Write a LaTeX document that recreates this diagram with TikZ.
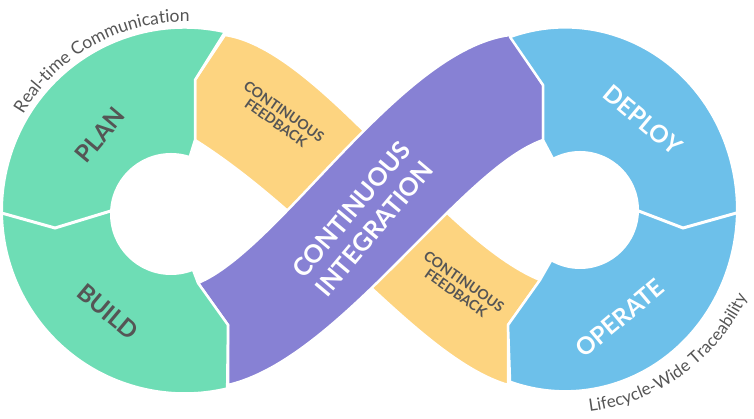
\documentclass[tikz,border=0pt]{standalone}
\usepackage{fontspec}
\setmainfont{Lato}
\usetikzlibrary{decorations.text}
\definecolor{cgreen}{HTML}{6EDDB5}
\definecolor{cyellow}{HTML}{FDD480}
\definecolor{cpurple}{HTML}{8781D4}
\definecolor{cblue}{HTML}{6DC0EA}
\definecolor{ctext}{HTML}{555555}
\begin{document}
\begin{tikzpicture}[x=1pt,y=1pt,
  piece/.style={draw=white,line width=2.5pt,line join=round},
  big/.style={font=\fontsize{24}{26}\selectfont\bfseries},
  small/.style={font=\fontsize{14}{14}\selectfont\bfseries,text=ctext,align=center},
  sep/.style={white,line width=3pt}]
\useasboundingbox (0,0) rectangle (754,419);
% yellow band
\path[piece,fill=cyellow] (225,384) .. controls (320,370) and (440,180) .. (540,139) -- (508,94) -- (508,34) .. controls (420,60) and (320,200) .. (195,279) -- (195,339) -- cycle;
% purple band
\path[piece,fill=cpurple] (228,34) -- (228,94) -- (198,136) .. controls (280,170) and (400,370) .. (510,384) -- (543,334) -- (543,279) .. controls (460,250) and (340,60) .. (228,34) -- cycle;
% green
\path[piece,fill=cgreen] (225,387) arc[start angle=77.3,end angle=283.4,radius=183] -- (228,94) -- (198,136) -- (172,205) -- (195,279) -- (195,339) -- cycle;
% blue
\path[piece,fill=cblue] (510,382) arc[start angle=108.7,end angle=-108.7,x radius=172,y radius=182] -- (508,94) -- (540,139) -- (580,209) -- (543,279) -- (543,334) -- cycle;
% holes
\fill[white] (171,205) circle[radius=61];
\fill[white] (580,209) circle[radius=59];
% separators
\coordinate (g1) at (-2,207); \coordinate (g2) at (55,191); \coordinate (g3) at (114,209);
\draw[sep] (g1) -- (g2) -- (g3);
\coordinate (b1) at (636,209); \coordinate (b2) at (683,191); \coordinate (b3) at (740,207);
\draw[sep] (b1) -- (b2) -- (b3);
% labels
\node[big,text=ctext,rotate=50] (plan) at (100,284) {PLAN};
\node[big,text=ctext,rotate=-40] (build) at (108,107) {BUILD};
\node[big,text=white,rotate=-40] (deploy) at (643,299) {DEPLOY};
\node[big,text=white,rotate=40] (operate) at (620,101) {OPERATE};
\node[font=\fontsize{25}{30}\selectfont\bfseries,text=white,align=center,rotate=50] (ci) at (363,200) {CONTINUOUS\\INTEGRATION};
\node[small,rotate=-35] (cf1) at (280,302) {CONTINUOUS\\FEEDBACK};
\node[small,rotate=-35] (cf2) at (460,132) {CONTINUOUS\\FEEDBACK};
% curved labels
\path[decorate,decoration={text along path,text align=center,
  text={|\fontsize{17.5}{18}\selectfont\color{ctext}|Real-time Communication}}]
  (185,209) ++(158:188) arc[start angle=158,end angle=80,radius=188];
\path[decorate,decoration={text along path,text align=center,
  text={|\fontsize{17}{18}\selectfont\color{ctext}|Lifecycle-Wide Traceability}}]
  (565,207) ++(-100:201) arc[start angle=-100,end angle=-8,radius=201];
\end{tikzpicture}
\end{document}
